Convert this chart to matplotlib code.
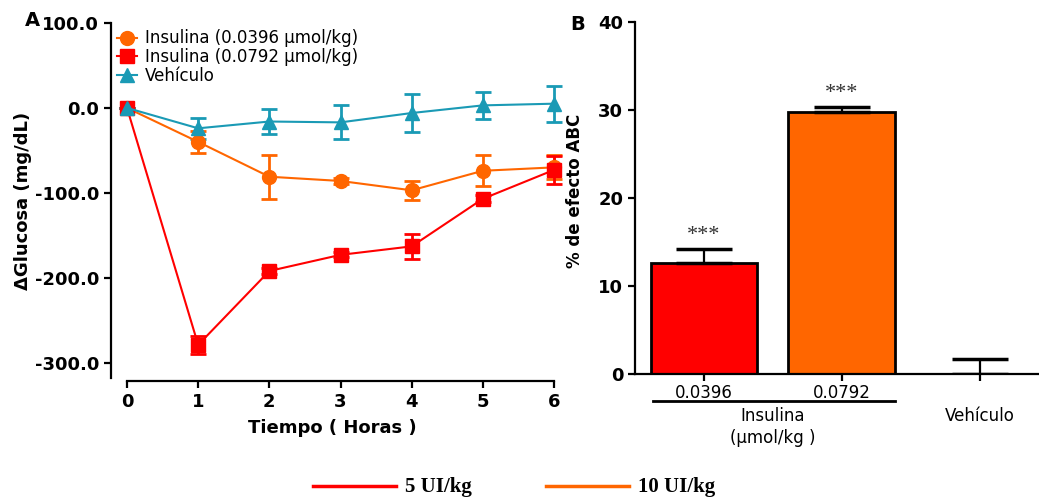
import matplotlib.pyplot as plt
from matplotlib.lines import Line2D
import matplotlib.transforms as mtransforms

plt.rcParams['font.family'] = ['DejaVu Sans']

# Panel A data
horas = [0, 1, 2, 3, 4, 5, 6]
ins_0396 = [0, -40, -81, -86, -97, -74, -70]
ins_0396_err = [0, 13, 26, 3, 11, 18, 14]
ins_0792 = [0, -279, -192, -173, -163, -107, -73]
ins_0792_err = [0, 11, 4, 3, 15, 4, 16]
vehiculo = [0, -24, -16, -17, -6, 3, 5]
vehiculo_err = [0, 12, 15, 20, 22, 16, 21]

# Panel B data
grupos = ['0.0396', '0.0792', '']
abc = [12.6, 29.8, 0.0]
abc_err = [1.6, 0.5, 1.7]
estrellas = ['***', '***', '']

rojo = '#FF0000'
naranja = '#FF6600'
azul = '#1A9AB5'

fig = plt.figure(figsize=(10.39, 4.98), dpi=100)

# ---------- Panel A ----------
axA = fig.add_axes([111 / 1039, 1 - 378 / 498, 443 / 1039, 355 / 498])
series = [
    (ins_0396, ins_0396_err, naranja, 'o', 'Insulina (0.0396 µmol/kg)'),
    (ins_0792, ins_0792_err, rojo, 's', 'Insulina (0.0792 µmol/kg)'),
    (vehiculo, vehiculo_err, azul, '^', 'Vehículo'),
]
for vals, err, col, mk, lab in series:
    axA.errorbar(horas, vals, yerr=err, color=col, marker=mk, markersize=10,
                 lw=1.5, elinewidth=2, capsize=5.5, capthick=2, label=lab,
                 clip_on=False, zorder=3)

axA.set_xlim(-0.225, 6.0)
axA.set_ylim(-318, 100)
axA.set_xticks(horas)
axA.set_yticks([100, 0, -100, -200, -300])
axA.set_yticklabels(['100.0', '0.0', '-100.0', '-200.0', '-300.0'])
axA.spines['top'].set_visible(False)
axA.spines['right'].set_visible(False)
axA.spines['bottom'].set_position(('outward', 2))
axA.spines['bottom'].set_bounds(0, 6)
for s in ['left', 'bottom']:
    axA.spines[s].set_linewidth(1.6)
axA.tick_params(width=1.6, length=5, labelsize=13)
for t in axA.get_xticklabels() + axA.get_yticklabels():
    t.set_fontweight('bold')
axA.set_xlabel('Tiempo ( Horas )', fontsize=13, fontweight='bold', labelpad=6)
axA.set_ylabel('ΔGlucosa (mg/dL)', fontsize=13, fontweight='bold', labelpad=2)

handles, labels = axA.get_legend_handles_labels()
handles = [h[0] for h in handles]
axA.legend(handles, labels, loc='upper left', bbox_to_anchor=(-0.01, 1.01),
           frameon=False, fontsize=12, handlelength=1.2, handletextpad=0.5,
           labelspacing=0.05, borderaxespad=0.2)
fig.text(32 / 1039, 1 - 20 / 498, 'A', fontsize=14, fontweight='bold',
         ha='center', va='center')

# ---------- Panel B ----------
axB = fig.add_axes([635 / 1039, 1 - 374 / 498, 404 / 1039, 352 / 498])
pos = [0, 1, 2]
axB.bar(pos[:2], abc[:2], width=0.775, color=[rojo, naranja],
        edgecolor='black', linewidth=2, zorder=2)
axB.errorbar(pos, abc, yerr=[[0, 0, 0], abc_err], fmt='none', ecolor='black',
             elinewidth=1.6, capsize=20, capthick=2.5, zorder=3)
for x, v, e, s in zip(pos, abc, abc_err, estrellas):
    if s:
        axB.annotate(s, (x, v + e), xytext=(0, 3), textcoords='offset points',
                     ha='center', va='bottom', fontsize=16, color='#333333',
                     family='Liberation Serif')

axB.set_xlim(-0.5, 2.43)
axB.set_ylim(0, 40)
axB.set_yticks([0, 10, 20, 30, 40])
axB.set_xticks(pos)
axB.set_xticklabels(grupos, fontsize=12)
axB.tick_params(axis='x', pad=2)
axB.spines['top'].set_visible(False)
axB.spines['right'].set_visible(False)
for s in ['left', 'bottom']:
    axB.spines[s].set_linewidth(1.6)
axB.tick_params(width=1.6, length=5)
axB.tick_params(axis='y', labelsize=13)
for t in axB.get_yticklabels():
    t.set_fontweight('bold')
axB.set_ylabel('% de efecto ABC', fontsize=12, fontweight='bold', labelpad=4)
axB.yaxis.set_label_coords(-0.125, 0.52)

trans = mtransforms.blended_transform_factory(axB.transData, axB.transAxes)
axB.add_line(Line2D([-0.373, 1.388], [-0.0767, -0.0767], color='black', lw=2,
                    transform=trans, clip_on=False))
axB.text(0.5, -0.118, 'Insulina', transform=trans, ha='center', va='center',
         fontsize=12)
axB.text(0.5, -0.183, '(µmol/kg )', transform=trans, ha='center', va='center',
         fontsize=12)
axB.text(2, -0.118, 'Vehículo', transform=trans, ha='center', va='center',
         fontsize=12)
fig.text(578 / 1039, 1 - 25 / 498, 'B', fontsize=14, fontweight='bold',
         ha='center', va='center')

# ---------- bottom legend ----------
fig.add_artist(Line2D([313 / 1039, 396 / 1039], [1 - 486 / 498] * 2,
                      color=rojo, lw=2.5))
fig.text(405 / 1039, 1 - 487 / 498, '5 UI/kg', fontsize=15, fontweight='bold',
         family='Liberation Serif', va='center', ha='left')
fig.add_artist(Line2D([546 / 1039, 629 / 1039], [1 - 486 / 498] * 2,
                      color=naranja, lw=2.5))
fig.text(638 / 1039, 1 - 487 / 498, '10 UI/kg', fontsize=15, fontweight='bold',
         family='Liberation Serif', va='center', ha='left')

fig.savefig('out.png', dpi=100)
